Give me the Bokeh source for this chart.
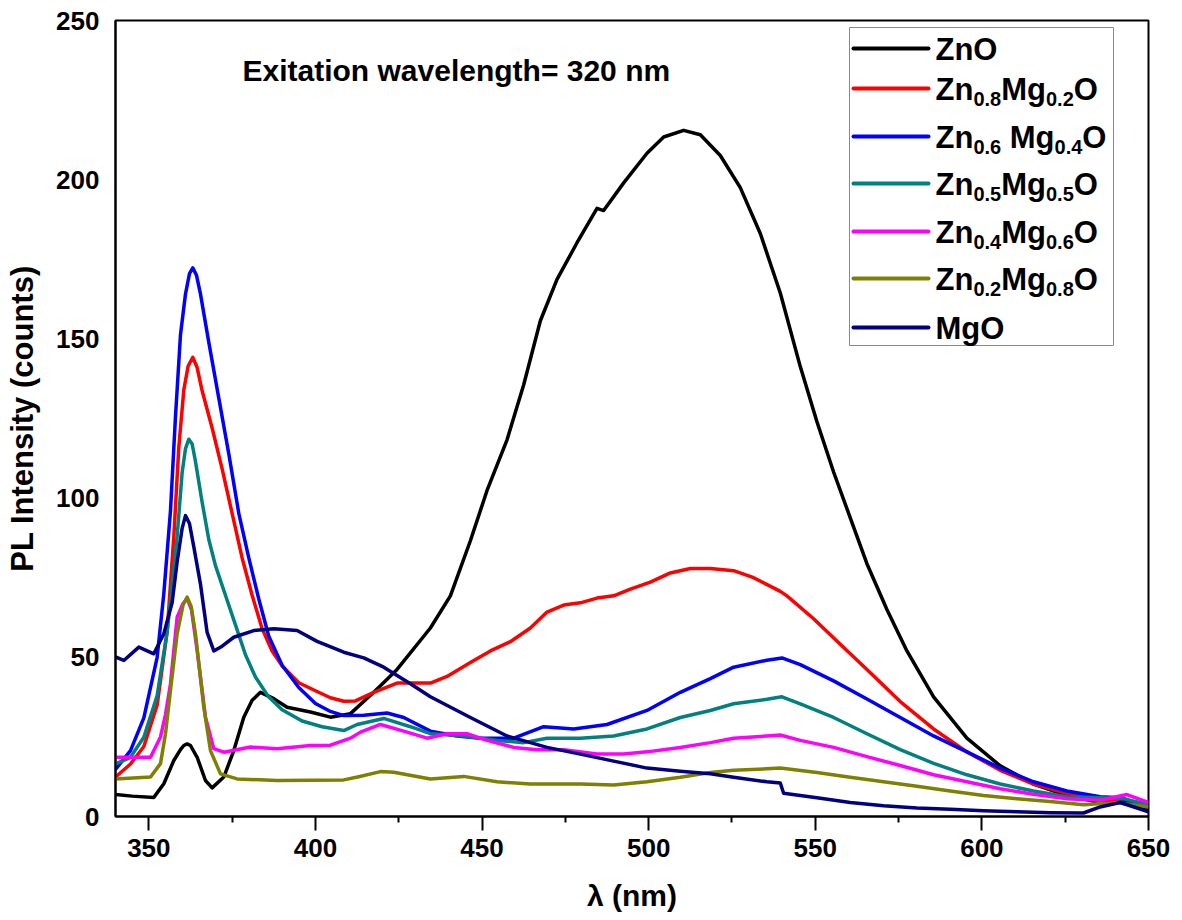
from bokeh.plotting import figure
from bokeh.models import Range1d, FixedTicker, Label, ColumnDataSource
from bokeh.embed import file_html
from bokeh.resources import INLINE

# ---------------- data: PL spectra (wavelength in nm, intensity in counts) ----------------
zno_x = [340, 345, 351.5, 354.5, 357.5, 359.5, 360.5, 361.5, 362.5, 364.5, 367, 369, 372.5, 375.5,
         378.5, 381, 383.5, 387.5, 391.5, 398.5, 404.5, 410.5, 417.5, 424.5, 434.5, 440.5, 446.5,
         451.5, 457.5, 462.5, 467.5, 472.5, 478.5, 484.5, 486.5, 492.5, 499.5, 504.5, 510.5, 515.5,
         521.5, 527.5, 533.5, 539.5, 545.5, 550.5, 555.5, 560.5, 565.5, 571.5, 577.5, 585.5, 595.5,
         605.5, 615.5, 625.5, 635.5, 641.5, 650]
zno_y = [6.9, 6.4, 6.0, 10.3, 17.6, 21.0, 22.3, 22.8, 22.3, 18.6, 11.3, 9.0, 12.4, 20.7,
         31.2, 36.5, 39.0, 37.0, 34.3, 32.8, 31.2, 32.3, 39.0, 46.2, 59.2, 69.3, 86.6,
         102.4, 118.3, 135.6, 155.7, 168.7, 180.2, 191.0, 190.3, 199.0, 208.3, 213.4, 215.5, 214.1,
         207.6, 197.5, 183.1, 164.4, 141.3, 124.0, 108.2, 93.8, 79.4, 65.0, 52.0, 37.6, 24.6,
         15.9, 10.2, 6.6, 4.4, 5.2, 2.3]

mg02_x = [340, 344.5, 348.5, 352.5, 355.5, 357.5, 359, 360.5, 361.8, 363.2, 364.5, 366, 369, 372,
          375, 378, 381, 384, 387, 390, 395, 400, 404.5, 408.5, 412, 417.5, 424.5, 434.5, 439.5,
          446.5, 452.5, 458.5, 464.5, 469.5, 474.5, 479.5, 484.5, 489.5, 494.5, 500.5, 506.5,
          512.5, 518.5, 525.5, 531.5, 539.5, 541.5, 549.5, 557.5, 565.5, 575.5, 585.5, 595.5,
          605.5, 615.5, 625.5, 635.5, 642.5, 650]
mg02_y = [12.4, 16.5, 22.0, 35.0, 58.0, 88.0, 116.0, 134.0, 141.5, 144.2, 141.0, 133.7, 122.0, 109.2,
          95.2, 81.2, 69.5, 59.0, 52.0, 47.3, 42.0, 39.5, 37.3, 36.2, 36.3, 39.0, 41.9, 41.9, 44.0,
          48.4, 52.0, 54.9, 59.2, 64.2, 66.4, 67.1, 68.6, 69.3, 71.4, 73.6, 76.5,
          77.9, 77.9, 77.2, 75.0, 70.7, 69.3, 62.1, 54.1, 46.2, 36.1, 27.5, 20.3,
          14.5, 10.2, 7.3, 5.1, 5.6, 3.0]

mg04_x = [340, 344.5, 348.5, 352.5, 354.5, 356.5, 358, 359.5, 361, 362.2, 363.2, 364.3, 365.5, 368,
          371, 374, 377, 380, 383, 386, 390, 395, 400, 404.5, 408.5, 414.5, 421.5, 426.5, 434.5,
          442.5, 449.5, 459.5, 468.5, 477.5, 487.5, 499.5, 509.5, 518.5, 525.5, 535.5, 540, 545.5,
          555.5, 565.5, 575.5, 585.5, 595.5, 605.5, 615.5, 625.5, 635.5, 641.5, 650]
mg04_y = [14.8, 20.7, 31.0, 50.0, 70.0, 96.0, 125.6, 151.3, 164.1, 170.5, 172.3, 170.0, 164.1, 148.9,
          131.4, 113.9, 95.2, 81.2, 68.3, 56.6, 47.5, 40.5, 35.5, 33.0, 31.7, 31.8, 32.5, 31.1, 26.8,
          25.3, 24.6, 24.6, 28.2, 27.5, 28.9, 33.3, 39.0, 43.3, 46.9, 49.1, 49.8, 47.7,
          42.6, 36.9, 31.1, 25.3, 20.3, 15.2, 10.9, 8.0, 6.2, 5.9, 3.0]

mg05_x = [340, 344.5, 348.5, 352.5, 355.5, 358.5, 360, 361, 362, 363, 364, 366, 368, 370, 373, 376,
          379, 382, 386, 390, 396, 402, 408.5, 412.5, 420.5, 428.5, 434.5, 444.5, 454.5, 462.5,
          469.5, 479.5, 489.5, 499.5, 509.5, 518.5, 525.5, 535.5, 540, 545.5, 555.5, 565.5, 575.5,
          585.5, 595.5, 605.5, 615.5, 625.5, 635.5, 642.5, 650]
mg05_y = [16.5, 18.6, 24.9, 38.0, 58.0, 88.0, 108.0, 115.5, 118.5, 117.0, 111.5, 98.7, 87.0, 78.8,
          69.5, 60.2, 50.8, 43.8, 37.5, 33.5, 30.0, 28.2, 27.0, 28.9, 30.8, 28.2, 26.0, 25.3, 23.9,
          23.2, 24.6, 24.6, 25.3, 27.5, 31.1, 33.3, 35.4, 36.8, 37.6, 35.4, 31.1, 26.0, 21.0,
          16.7, 13.1, 10.2, 8.0, 6.2, 5.9, 5.6, 3.7]

mg06_x = [340, 350.5, 353.5, 355, 356.5, 358.5, 360.2, 361.5, 362.8, 364.5, 367, 369.5, 372.5, 380.5,
          388.5, 398.5, 404.5, 410.5, 413.5, 419.5, 426.5, 433.5, 439.5, 445.5, 451.5, 459.5, 466.5,
          474.5, 484.5, 492.5, 499.5, 509.5, 518.5, 525.5, 535.5, 539.5, 545.5, 555.5, 565.5,
          575.5, 585.5, 595.5, 605.5, 615.5, 625.5, 635.5, 643.5, 650]
mg06_y = [18.6, 18.6, 25.0, 32.0, 41.7, 62.6, 66.8, 68.4, 65.0, 52.1, 31.2, 21.3, 20.2, 21.8,
          21.3, 22.3, 22.4, 24.6, 26.5, 28.9, 26.8, 24.6, 26.0, 26.0, 23.9, 21.7, 21.0,
          21.0, 19.6, 19.6, 20.3, 21.7, 23.2, 24.6, 25.3, 25.6, 23.9, 21.7, 18.8,
          16.0, 13.1, 10.9, 8.7, 7.0, 5.6, 5.1, 6.9, 4.4]

mg08_x = [340, 350.5, 353.5, 355, 356.5, 358.5, 360.3, 361.5, 362.7, 364, 366.5, 368.5, 371.5, 376.5,
          388.5, 408.5, 413, 419.5, 423.5, 434.5, 444.5, 454.5, 464.5, 479.5, 489.5, 499.5, 509.5,
          518.5, 525.5, 539.5, 550.5, 560.5, 570.5, 580.5, 590.5, 600.5, 610.5, 620.5, 630.5,
          640.5, 650]
mg08_y = [11.8, 12.4, 16.6, 26.0, 39.6, 57.4, 66.5, 68.9, 66.0, 57.4, 34.3, 20.7, 13.4, 11.8,
          11.3, 11.5, 12.5, 14.1, 13.9, 11.8, 12.6, 10.9, 10.2, 10.2, 9.9, 10.9, 12.3,
          13.8, 14.5, 15.2, 13.8, 12.3, 10.9, 9.5, 8.0, 6.6, 5.6, 4.7, 3.7,
          4.4, 3.0]

mgo_x = [340, 342.5, 347, 351.5, 354.5, 357, 358.5, 360, 361, 362.2, 363.5, 365.5, 367.5, 369.5,
         372, 375.5, 381.5, 387.5, 394.5, 400.5, 408.5, 414.5, 420.5, 428.5, 434.5, 446.5, 457.5,
         469.5, 479.5, 489.5, 499.5, 509.5, 518.5, 525.5, 535.5, 539.5, 540.5, 550.5, 560.5,
         570.5, 580.5, 590.5, 600.5, 610.5, 620.5, 630.5, 635.5, 641.5, 650]
mgo_y = [50.1, 49.0, 53.2, 51.1, 57.4, 67.2, 80.0, 90.5, 94.5, 92.0, 84.7, 73.0, 57.8, 52.0,
         53.5, 56.3, 58.4, 59.0, 58.4, 55.0, 51.6, 49.8, 46.9, 41.7, 37.6, 31.1, 25.3,
         21.7, 19.6, 17.4, 15.2, 14.2, 13.4, 12.3, 10.9, 10.5, 7.3, 5.9, 4.4,
         3.4, 2.7, 2.3, 1.8, 1.5, 1.2, 1.1, 3.0, 4.4, 1.5]

series_x = [zno_x, mg02_x, mg04_x, mg05_x, mg06_x, mg08_x, mgo_x]
series_y = [zno_y, mg02_y, mg04_y, mg05_y, mg06_y, mg08_y, mgo_y]
series_colors = ["#000000", "#FF0000", "#0000FF", "#008080", "#FF00FF", "#808000", "#000080"]

# legend labels as (text, is_subscript) runs; None stands for a word gap
legend_runs = [
    [("ZnO", False)],
    [("Zn", False), ("0.8", True), ("Mg", False), ("0.2", True), ("O", False)],
    [("Zn", False), ("0.6", True), (None, False), ("Mg", False), ("0.4", True), ("O", False)],
    [("Zn", False), ("0.5", True), ("Mg", False), ("0.5", True), ("O", False)],
    [("Zn", False), ("0.4", True), ("Mg", False), ("0.6", True), ("O", False)],
    [("Zn", False), ("0.2", True), ("Mg", False), ("0.8", True), ("O", False)],
    [("MgO", False)],
]

x_ticks = [350, 400, 450, 500, 550, 600, 650]
x_minor = [375, 425, 475, 525, 575, 625]
y_ticks = [0, 50, 100, 150, 200, 250]

# ---------------- layout ----------------
W, H = 1182, 920
B_LEFT, B_RIGHT, B_TOP, B_BOTTOM = 115, 34, 20, 104
X0, X1, Y0, Y1 = 340, 650, 0, 250
FONT = "Liberation Sans"


def sx(px):
    return X0 + (px - B_LEFT) * (X1 - X0) / (W - B_LEFT - B_RIGHT)


def sy(py):
    return Y1 - (py - B_TOP) * (Y1 - Y0) / (H - B_TOP - B_BOTTOM)


# advance widths of the bold sans face (per 1000 em)
ADV = {"Z": 611, "n": 611, "M": 833, "g": 611, "O": 778, ".": 278, " ": 278}
for d in "0123456789":
    ADV[d] = 556


def text_width(s, size):
    return sum(ADV.get(c, 600) for c in s) * size / 1000.0


p = figure(width=W, height=H, output_backend="svg", toolbar_location=None,
           x_range=Range1d(X0, X1), y_range=Range1d(Y0, Y1),
           min_border_left=B_LEFT, min_border_right=B_RIGHT,
           min_border_top=B_TOP, min_border_bottom=B_BOTTOM)
p.background_fill_color = "white"
p.border_fill_color = "white"
p.outline_line_color = "black"
p.outline_line_width = 2
p.xgrid.visible = False
p.ygrid.visible = False

for xs, ys, c in zip(series_x, series_y, series_colors):
    p.line(xs, ys, line_color=c, line_width=3.5, line_join="round")

# axes
p.xaxis.ticker = FixedTicker(ticks=x_ticks, minor_ticks=x_minor)
p.yaxis.ticker = FixedTicker(ticks=y_ticks)
for ax in (p.xaxis[0], p.yaxis[0]):
    ax.axis_line_color = "black"
    ax.axis_line_width = 2
    ax.major_tick_line_color = "black"
    ax.major_tick_line_width = 2
    ax.minor_tick_line_color = "black"
    ax.minor_tick_line_width = 2
    ax.major_tick_in = 0
    ax.minor_tick_in = 0
    ax.major_label_text_font = FONT
    ax.major_label_text_font_style = "bold"
    ax.major_label_text_font_size = "26px"
    ax.major_label_text_color = "black"
    ax.axis_label_text_font = FONT
    ax.axis_label_text_font_style = "bold"
    ax.axis_label_text_color = "black"

p.xaxis.major_tick_out = 14
p.xaxis.minor_tick_out = 6
p.xaxis.major_label_standoff = 8
p.xaxis.axis_label = "λ (nm)"
p.xaxis.axis_label_text_font_size = "30px"
p.xaxis.axis_label_standoff = 19

p.yaxis.major_tick_out = 0
p.yaxis.minor_tick_out = 0
p.yaxis.major_label_standoff = 16
p.yaxis.axis_label = "PL Intensity (counts)"
p.yaxis.axis_label_text_font_size = "31px"
p.yaxis.axis_label_standoff = 13

# baseline correction for annotation text, in pixels
LIFT = 10

# excitation note
p.add_layout(Label(x=sx(242), y=sy(80 - LIFT), text="Exitation wavelength= 320 nm",
                   text_font=FONT, text_font_style="bold", text_font_size="30px",
                   text_color="black", text_align="left", text_baseline="alphabetic"))

# legend box, sample lines and labels
p.quad(left=[sx(849)], right=[sx(1113)], top=[sy(27)], bottom=[sy(345)],
       fill_color="white", line_color="#8a8a8a", line_width=1)

row_py = [48, 88, 136, 183, 231, 278, 327]
seg = ColumnDataSource(dict(x0=[sx(853)] * 7, x1=[sx(928)] * 7,
                            y0=[sy(v) for v in row_py], y1=[sy(v) for v in row_py],
                            c=series_colors))
p.segment("x0", "y0", "x1", "y1", source=seg, line_color="c", line_width=4, line_cap="round")

MAIN, SUB = 31, 20
for py, runs in zip(row_py, legend_runs):
    cx = 935.0
    base = py + 11 - LIFT
    for txt, is_sub in runs:
        if txt is None:
            cx += text_width(" ", MAIN)
            continue
        size = SUB if is_sub else MAIN
        by = base + 9 if is_sub else base
        p.add_layout(Label(x=sx(cx), y=sy(by), text=txt, text_font=FONT,
                           text_font_style="bold", text_font_size=f"{size}px",
                           text_color="black", text_align="left",
                           text_baseline="alphabetic"))
        cx += text_width(txt, size)

open("out.html", "w").write(file_html(p, INLINE))
